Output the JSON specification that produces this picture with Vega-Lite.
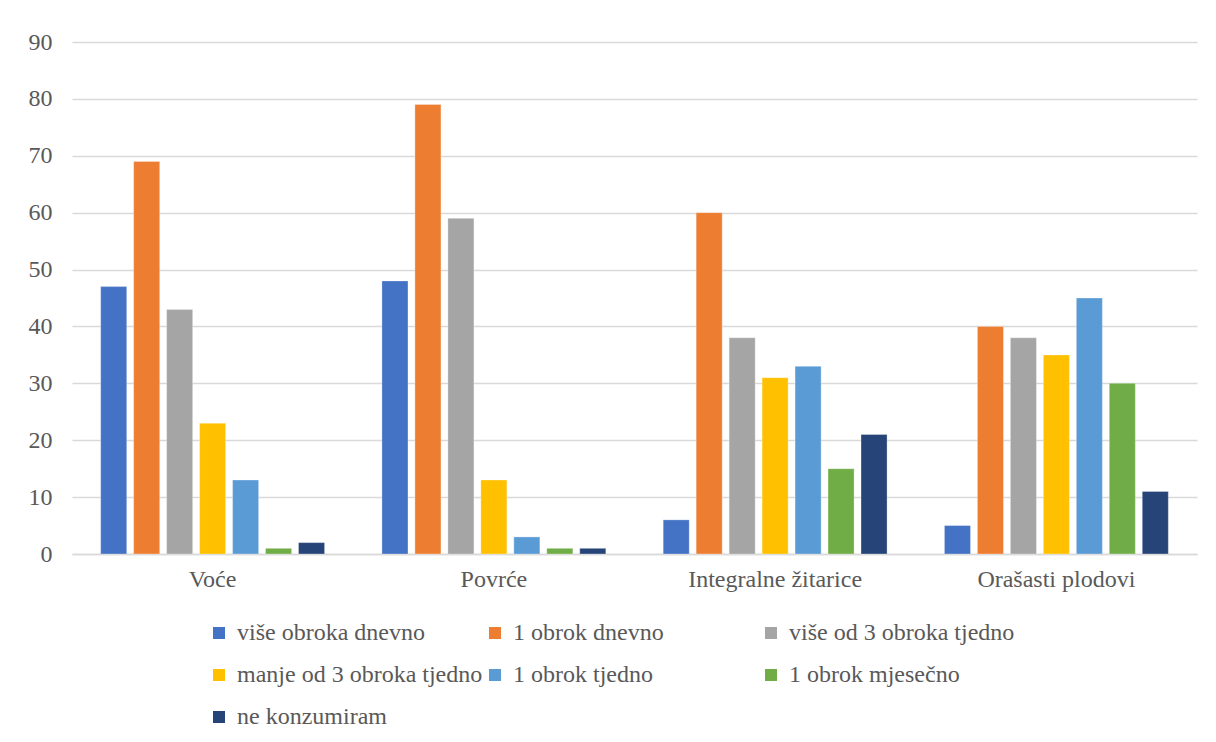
{
  "$schema": "https://vega.github.io/schema/vega-lite/v6.json",
  "autosize": "none",
  "width": 1125,
  "height": 512,
  "padding": {"left": 72, "top": 42, "right": 19, "bottom": 188},
  "background": "white",
  "data": {
    "values": [
      {"kategorija": "Voće", "serija": "više obroka dnevno", "vrijednost": 47},
      {"kategorija": "Voće", "serija": "1 obrok dnevno", "vrijednost": 69},
      {"kategorija": "Voće", "serija": "više od 3 obroka tjedno", "vrijednost": 43},
      {"kategorija": "Voće", "serija": "manje od 3 obroka tjedno", "vrijednost": 23},
      {"kategorija": "Voće", "serija": "1 obrok tjedno", "vrijednost": 13},
      {"kategorija": "Voće", "serija": "1 obrok mjesečno", "vrijednost": 1},
      {"kategorija": "Voće", "serija": "ne konzumiram", "vrijednost": 2},
      {"kategorija": "Povrće", "serija": "više obroka dnevno", "vrijednost": 48},
      {"kategorija": "Povrće", "serija": "1 obrok dnevno", "vrijednost": 79},
      {"kategorija": "Povrće", "serija": "više od 3 obroka tjedno", "vrijednost": 59},
      {"kategorija": "Povrće", "serija": "manje od 3 obroka tjedno", "vrijednost": 13},
      {"kategorija": "Povrće", "serija": "1 obrok tjedno", "vrijednost": 3},
      {"kategorija": "Povrće", "serija": "1 obrok mjesečno", "vrijednost": 1},
      {"kategorija": "Povrće", "serija": "ne konzumiram", "vrijednost": 1},
      {"kategorija": "Integralne žitarice", "serija": "više obroka dnevno", "vrijednost": 6},
      {"kategorija": "Integralne žitarice", "serija": "1 obrok dnevno", "vrijednost": 60},
      {"kategorija": "Integralne žitarice", "serija": "više od 3 obroka tjedno", "vrijednost": 38},
      {"kategorija": "Integralne žitarice", "serija": "manje od 3 obroka tjedno", "vrijednost": 31},
      {"kategorija": "Integralne žitarice", "serija": "1 obrok tjedno", "vrijednost": 33},
      {"kategorija": "Integralne žitarice", "serija": "1 obrok mjesečno", "vrijednost": 15},
      {"kategorija": "Integralne žitarice", "serija": "ne konzumiram", "vrijednost": 21},
      {"kategorija": "Orašasti plodovi", "serija": "više obroka dnevno", "vrijednost": 5},
      {"kategorija": "Orašasti plodovi", "serija": "1 obrok dnevno", "vrijednost": 40},
      {"kategorija": "Orašasti plodovi", "serija": "više od 3 obroka tjedno", "vrijednost": 38},
      {"kategorija": "Orašasti plodovi", "serija": "manje od 3 obroka tjedno", "vrijednost": 35},
      {"kategorija": "Orašasti plodovi", "serija": "1 obrok tjedno", "vrijednost": 45},
      {"kategorija": "Orašasti plodovi", "serija": "1 obrok mjesečno", "vrijednost": 30},
      {"kategorija": "Orašasti plodovi", "serija": "ne konzumiram", "vrijednost": 11}
    ]
  },
  "mark": {"type": "bar", "stroke": "white", "strokeWidth": 0.6, "strokeOpacity": 0.5},
  "encoding": {
    "x": {
      "field": "kategorija",
      "type": "nominal",
      "sort": ["Voće", "Povrće", "Integralne žitarice", "Orašasti plodovi"],
      "scale": {"paddingInner": 0, "paddingOuter": 0},
      "axis": {
        "title": null,
        "labelAngle": 0,
        "ticks": false,
        "domainColor": "#D9D9D9",
        "domainWidth": 1.3,
        "labelPadding": 13,
        "labelBaseline": "top",
        "labelFont": "Liberation Serif, Times New Roman, serif",
        "labelFontSize": 24
      }
    },
    "xOffset": {
      "field": "serija",
      "type": "nominal",
      "sort": ["više obroka dnevno", "1 obrok dnevno", "više od 3 obroka tjedno", "manje od 3 obroka tjedno", "1 obrok tjedno", "1 obrok mjesečno", "ne konzumiram"],
      "scale": {"paddingInner": 0.21, "paddingOuter": 0.87}
    },
    "y": {
      "field": "vrijednost",
      "type": "quantitative",
      "scale": {"domain": [0, 90], "nice": false},
      "axis": {
        "title": null,
        "values": [0, 10, 20, 30, 40, 50, 60, 70, 80, 90],
        "domain": false,
        "ticks": false,
        "gridColor": "#D9D9D9",
        "gridWidth": 1.3,
        "labelPadding": 20,
        "labelFont": "Liberation Serif, Times New Roman, serif",
        "labelFontSize": 24
      }
    },
    "color": {
      "field": "serija",
      "type": "nominal",
      "scale": {
        "domain": ["više obroka dnevno", "1 obrok dnevno", "više od 3 obroka tjedno", "manje od 3 obroka tjedno", "1 obrok tjedno", "1 obrok mjesečno", "ne konzumiram"],
        "range": ["#4472C4", "#ED7D31", "#A5A5A5", "#FFC000", "#5B9BD5", "#70AD47", "#264478"]
      },
      "legend": {
        "title": null,
        "orient": "none",
        "direction": "horizontal",
        "legendX": 135,
        "legendY": 579,
        "padding": 0,
        "columns": 3,
        "gridAlign": "all",
        "columnPadding": -1,
        "rowPadding": 18,
        "symbolType": "square",
        "symbolSize": 144,
        "symbolStrokeWidth": 0,
        "symbolOpacity": 1,
        "labelOffset": 6,
        "labelLimit": 400,
        "labelFont": "Liberation Serif, Times New Roman, serif",
        "labelFontSize": 24
      }
    }
  },
  "config": {
    "view": {"stroke": null},
    "axis": {"labelColor": "#595959"},
    "legend": {"labelColor": "#595959"}
  }
}
